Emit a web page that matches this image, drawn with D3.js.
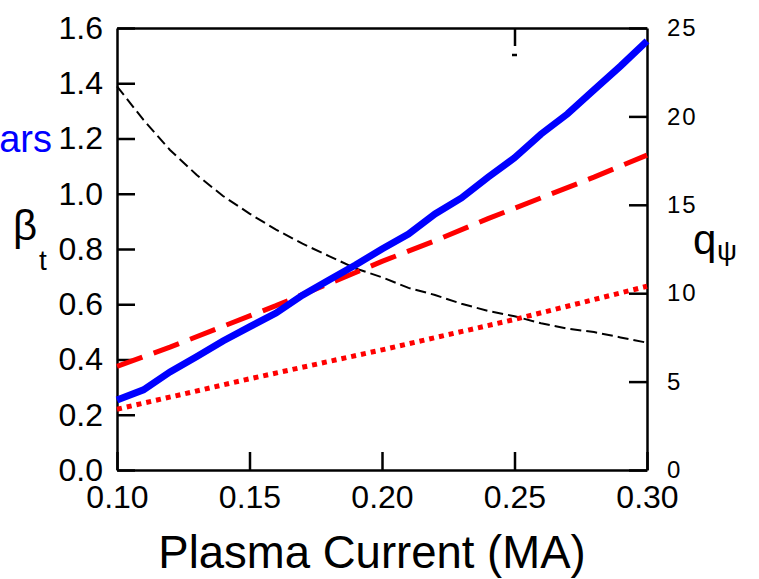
<!DOCTYPE html>
<html><head><meta charset="utf-8">
<script src="https://cdn.jsdelivr.net/npm/d3@7"></script>
<style>
body{margin:0;background:#fff;}
svg{display:block;font-family:"Liberation Sans",Arial,sans-serif;}
</style></head>
<body><svg id="c" width="759" height="579"></svg>
<script>
const current = [0.10,0.11,0.12,0.13,0.14,0.15,0.16,0.17,0.18,0.19,0.20,0.21,0.22,0.23,0.24,0.25,0.26,0.27,0.28,0.29,0.30];
const betaBlue = [0.253,0.29,0.355,0.41,0.467,0.518,0.568,0.633,0.688,0.742,0.80,0.854,0.927,0.985,1.06,1.13,1.216,1.289,1.376,1.462,1.553];
const currentRed = [0.10,0.12,0.14,0.16,0.18,0.20,0.22,0.24,0.26,0.28,0.30];
const betaRedDashed = [0.375,0.445,0.52,0.595,0.675,0.755,0.83,0.91,0.985,1.06,1.14];
const currentDot = [0.10,0.15,0.20,0.25,0.30];
const betaRedDotted = [0.22,0.33,0.435,0.545,0.665];
const qPsi = [21.7,19.8,18.1,16.7,15.5,14.5,13.6,12.8,12.1,11.4,10.9,10.3,9.9,9.4,9.0,8.7,8.3,8.0,7.8,7.5,7.2];
const xTicks = [0.10,0.15,0.20,0.25,0.30];
const yLeftTicks = [0.0,0.2,0.4,0.6,0.8,1.0,1.2,1.4,1.6];
const yRightTicks = [0,5,10,15,20,25];
const topTicks = [0.25];

const svg = d3.select("#c");
const L=117,R=647,T=28,B=470;
const x = d3.scaleLinear().domain([0.10,0.30]).range([L,R]);
const yL = d3.scaleLinear().domain([0,1.6]).range([B,T]);
const yR = d3.scaleLinear().domain([0,25]).range([B,T]);

function styleAxis(g,fs){
  g.selectAll("path").attr("stroke","#000").attr("stroke-width",2.5);
  g.selectAll("line").attr("stroke","#000").attr("stroke-width",2.5);
  g.selectAll("text").attr("fill","#000").style("font-size",fs+"px").style("font-family","Liberation Sans, Arial, sans-serif");
}
// bottom
const gx = svg.append("g").attr("transform",`translate(0,${B})`)
  .call(d3.axisBottom(x).tickValues(xTicks).tickFormat(d3.format(".2f")).tickSizeInner(-18).tickSizeOuter(0).tickPadding(15));
styleAxis(gx,32);
// top
const gt = svg.append("g").attr("transform",`translate(0,${T})`)
  .call(d3.axisTop(x).tickValues(topTicks).tickFormat("").tickSizeInner(-18).tickSizeOuter(0));
styleAxis(gt,10);
svg.append("line").attr("x1",x(0.25)-2.5).attr("x2",x(0.25)+2.5).attr("y1",55).attr("y2",55).attr("stroke","#000").attr("stroke-width",2.5);
// left
const gl = svg.append("g").attr("transform",`translate(${L},0)`)
  .call(d3.axisLeft(yL).tickValues(yLeftTicks).tickFormat(d3.format(".1f")).tickSizeInner(-18).tickSizeOuter(0).tickPadding(14));
styleAxis(gl,32);
// right
const gr = svg.append("g").attr("transform",`translate(${R},0)`)
  .call(d3.axisRight(yR).tickValues(yRightTicks).tickFormat(d3.format("d")).tickSizeInner(-18).tickSizeOuter(0).tickPadding(20));
styleAxis(gr,24);
gr.selectAll("text").attr("letter-spacing","2px");

// lines
const lineL = d3.line().x(d=>x(d[0])).y(d=>yL(d[1]));
const lineR = d3.line().x(d=>x(d[0])).y(d=>yR(d[1]));
svg.append("path").datum(current.map((c,i)=>[c,qPsi[i]])).attr("d",lineR)
  .attr("fill","none").attr("stroke","#000").attr("stroke-width",2).attr("stroke-dasharray","11,5");
svg.append("path").datum(currentDot.map((c,i)=>[c,betaRedDotted[i]])).attr("d",lineL)
  .attr("fill","none").attr("stroke","#ff0000").attr("stroke-width",5).attr("stroke-dasharray","5,5");
svg.append("path").datum(currentRed.map((c,i)=>[c,betaRedDashed[i]])).attr("d",lineL)
  .attr("fill","none").attr("stroke","#ff0000").attr("stroke-width",5).attr("stroke-dasharray","27,12");
svg.append("path").datum(current.map((c,i)=>[c,betaBlue[i]])).attr("d",lineL)
  .attr("fill","none").attr("stroke","#0000ff").attr("stroke-width",7);

// labels
svg.append("text").attr("x",372).attr("y",568).attr("text-anchor","middle").style("font-size","45.5px").text("Plasma Current (MA)");
svg.append("text").attr("x",52).attr("y",152).attr("text-anchor","end").attr("fill","#0000ff").style("font-size","38px").text("ars");
const bt = svg.append("text").attr("x",13).attr("y",240).style("font-size","42px");
bt.append("tspan").text("β");
bt.append("tspan").attr("x",39).attr("y",270).style("font-size","28px").text("t");
const qt = svg.append("text").attr("x",693).attr("y",254).style("font-size","42px");
qt.append("tspan").text("q");
qt.append("tspan").attr("x",717).attr("y",260).style("font-size","28px").text("ψ");
</script></body></html>
